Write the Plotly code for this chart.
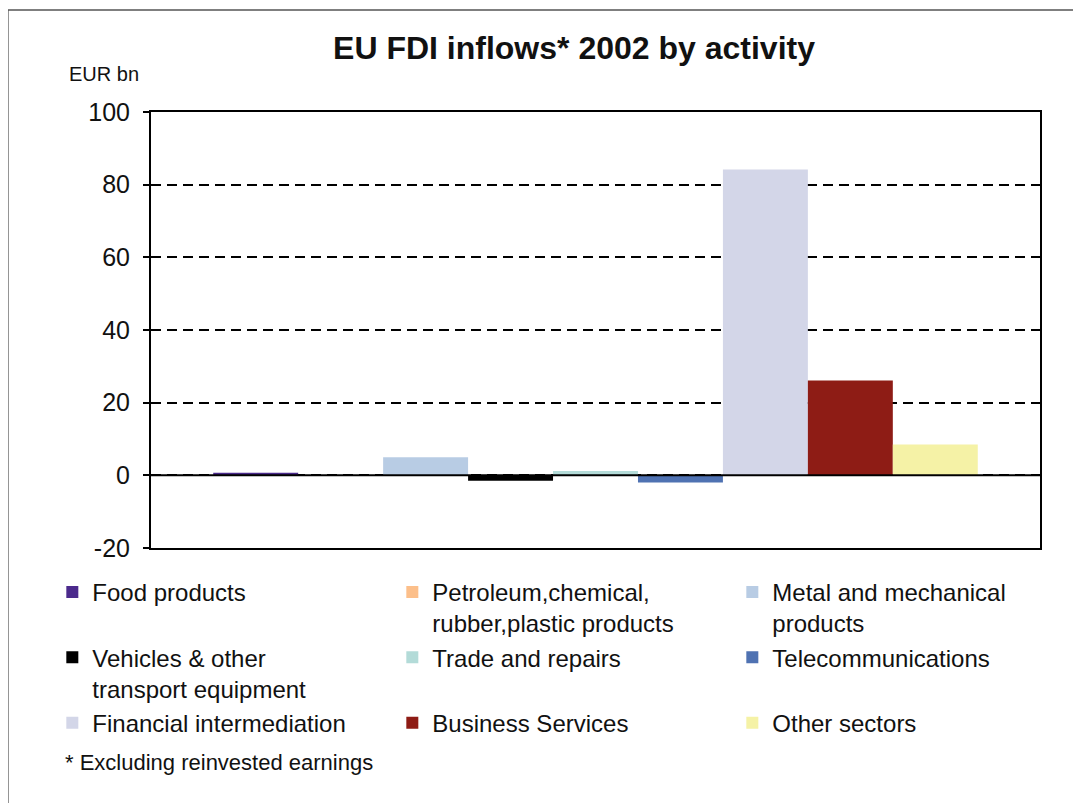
import plotly.graph_objs as go

# EU FDI inflows 2002 by activity, EUR bn
activities = [
    'Food products',
    'Petroleum,chemical,<br>rubber,plastic products',
    'Metal and mechanical<br>products',
    'Vehicles & other<br>transport equipment',
    'Trade and repairs',
    'Telecommunications',
    'Financial intermediation',
    'Business Services',
    'Other sectors',
]
inflows = [0.7, 0.0, 5.0, -1.5, 1.2, -2.0, 84.2, 26.1, 8.5]
colors = [
    '#4b2a8c', '#fcbf8a', '#b8cce4', '#000000', '#b3dbd8',
    '#4f72b2', '#d3d6e8', '#8e1c15', '#f5f2a6',
]
year = ['2002']
y_ticks = [-20, 0, 20, 40, 60, 80, 100]
y_ticktext = ['-20', '0', '20', '40', '60', '80', '100']

FONT = 'Liberation Sans, Arial, sans-serif'

fig = go.Figure()
for name, val, col in zip(activities, inflows, colors):
    fig.add_traces(
        go.Bar(
            name=name,
            x=year,
            y=[val],
            marker={'color': col, 'line': {'width': 0}},
            hoverinfo='y+name',
        )
    )

fig.update_layout(
    width=1073,
    height=795,
    margin={'l': 143, 'r': 41, 't': 104, 'b': 255, 'autoexpand': False},
    paper_bgcolor='white',
    plot_bgcolor='white',
    font={'family': FONT, 'color': '#111111'},
    barmode='group',
    bargap=0.14,
    bargroupgap=0,
    title={
        'text': '<b>EU FDI inflows* 2002 by activity</b>',
        'x': 0.5275,
        'xanchor': 'center',
        'y': 0.95,
        'yanchor': 'middle',
        'font': {'size': 32, 'family': FONT},
    },
    xaxis={
        'showticklabels': False,
        'ticks': '',
        'showgrid': False,
        'showline': True,
        'linecolor': 'black',
        'linewidth': 2,
        'mirror': True,
    },
    yaxis={
        'range': [-20, 100],
        'tickvals': y_ticks,
        'ticktext': y_ticktext,
        'ticks': 'outside',
        'ticklen': 6,
        'tickwidth': 2,
        'tickcolor': 'black',
        'ticklabelstandoff': 8,
        'tickfont': {'size': 25},
        'showline': True,
        'linecolor': 'black',
        'linewidth': 2,
        'mirror': True,
        'showgrid': True,
        'gridcolor': 'black',
        'gridwidth': 2,
        'griddash': '10px,6px',
        'zeroline': False,
    },
    showlegend=True,
    legend={
        'orientation': 'h',
        'x': -0.111,
        'xanchor': 'left',
        'y': -0.05,
        'yanchor': 'top',
        'traceorder': 'normal',
        'entrywidth': 295,
        'entrywidthmode': 'pixels',
        'valign': 'top',
        'font': {'size': 24, 'family': FONT},
        'bgcolor': 'rgba(0,0,0,0)',
        'tracegroupgap': 0,
    },
    hovermode='closest',
)

# solid zero line drawn over the bars
fig.add_shape(
    type='line', xref='paper', yref='y', x0=0, x1=1, y0=0, y1=0,
    line={'color': 'black', 'width': 2}, layer='above',
)
# outer frame of the chart
fig.add_shape(
    type='rect', xref='paper', yref='paper',
    x0=-0.161, x1=1.2, y0=-0.7, y1=1.234,
    line={'color': '#555555', 'width': 1.5}, layer='below',
)

fig.add_annotation(
    text='EUR bn', xref='paper', yref='paper',
    x=-0.0945, y=1.087, xanchor='left', yanchor='middle',
    showarrow=False, font={'size': 20, 'family': FONT},
)
fig.add_annotation(
    text='* Excluding reinvested earnings', xref='paper', yref='paper',
    x=-0.0985, y=-0.491, xanchor='left', yanchor='middle',
    showarrow=False, font={'size': 22, 'family': FONT},
)

fig.write_html('out.html')
